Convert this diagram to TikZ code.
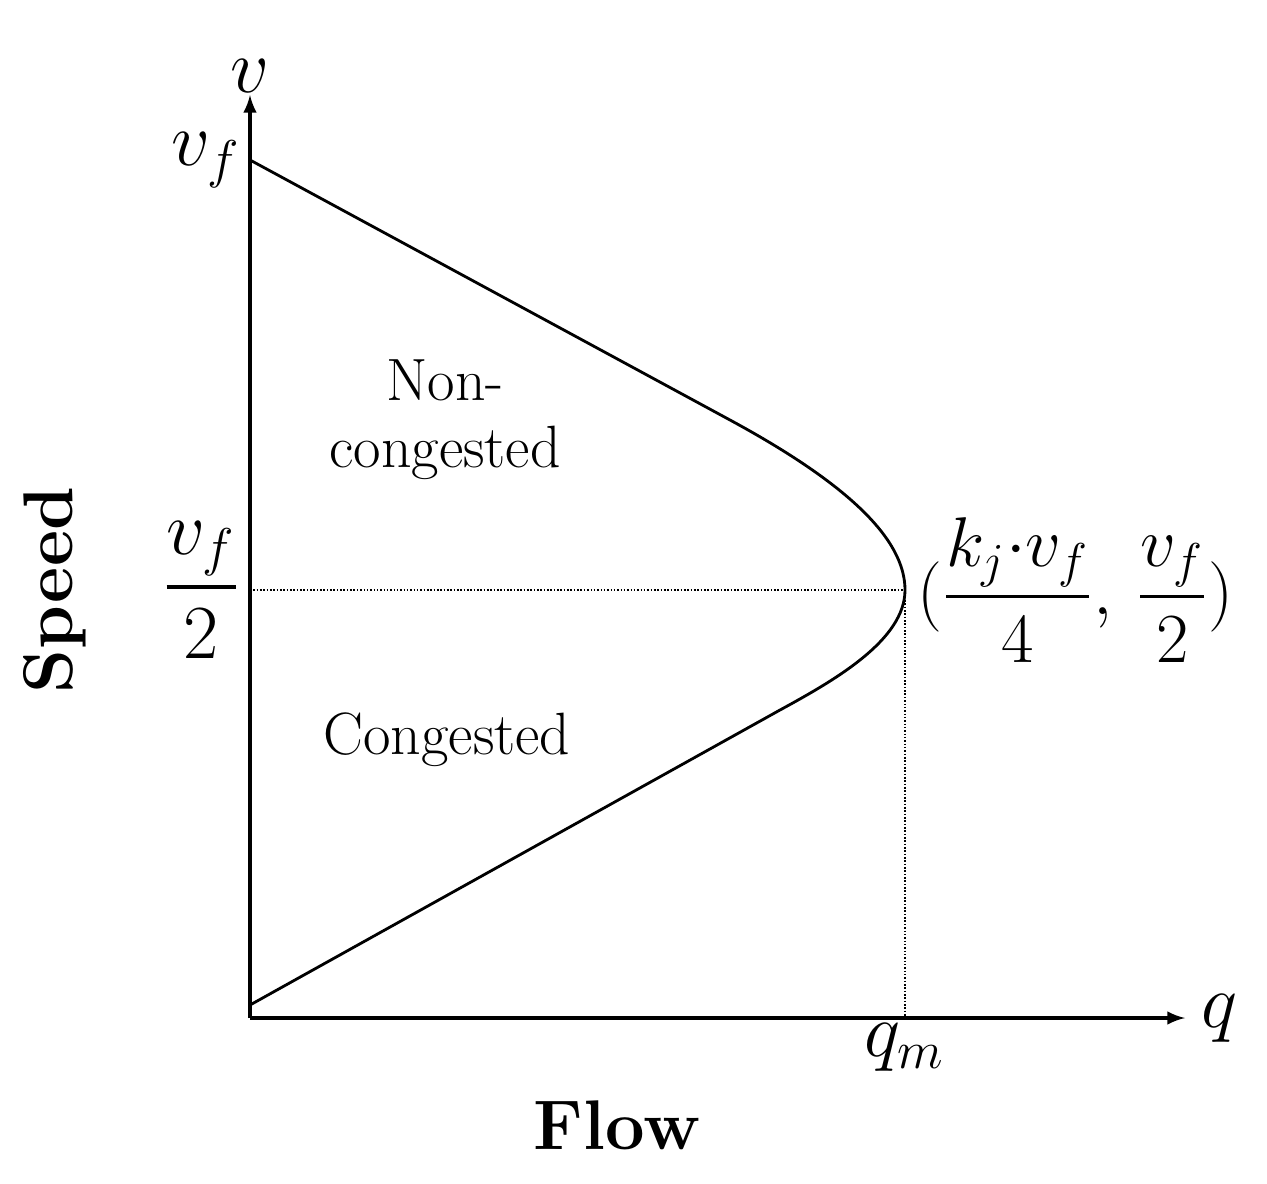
\documentclass[tikz,border=0pt]{standalone}
\usepackage{amsmath}
\usetikzlibrary{positioning}
\begin{document}
\begin{tikzpicture}[
    x=0.02cm, y=-0.02cm,
    axis/.style={line width=2.4pt, -latex},
    guide/.style={densely dotted, line width=0.9pt},
    region/.style={font=\fontsize{34}{38}\selectfont, align=center},
    lbl/.style={font=\huge, scale=2.1},
  ]
    \useasboundingbox (0,0) rectangle (1267,1183);

    \coordinate (O) at (250,1018);
    \coordinate (top) at (250,160);
    \coordinate (bot) at (250,1005);
    \coordinate (peak) at (905,590);
    \coordinate (vhalf) at (250,590);
    \coordinate (qmax) at (905,1018);

    \draw [axis] (O) -- (250,95) node [above=-8pt, lbl] (v) {$v$};
    \draw [axis] (O) -- (1185,1018) node [right=0pt, lbl] (q) {$q$};

    \draw [line width=1.6pt] (top) -- (730,420)
      .. controls (850,485) and (905,540) .. (peak)
      .. controls (905,640) and (835,680) .. (780,710) -- (bot);

    \draw [guide] (vhalf) -- (peak);
    \draw [guide] (peak) -- (qmax);

    \node [lbl, left=-2pt] (vf) at (top) {$v_f$};
    \node [lbl, left=-2pt] (vf2) at (vhalf) {$\dfrac{v_f}{2}$};
    \node [lbl, below=-4pt] (qm) at (qmax) {$q_m$};
    \node [lbl, right=0pt, scale=0.92] (pt) at (peak) {$(\dfrac{k_j{\cdot}v_f}{4},\,\dfrac{v_f}{2})$};

    \node [region] (nc) at (445,420) {Non-\\congested};
    \node [region] (cg) at (447,740) {Congested};

    \node [font=\bfseries\fontsize{40}{46}\selectfont] (flow) at (617,1125) {Flow};
    \node [font=\bfseries\fontsize{40}{46}\selectfont, rotate=90] (speed) at (55,590) {Speed};
\end{tikzpicture}
\end{document}
